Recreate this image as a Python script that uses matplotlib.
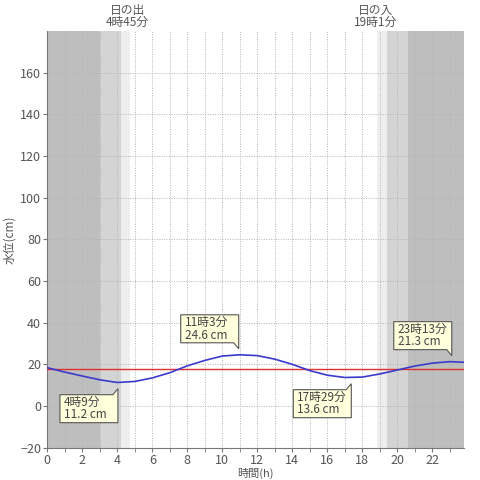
import matplotlib
matplotlib.use("Agg")
import matplotlib.pyplot as plt
from matplotlib.patches import Polygon
from matplotlib.transforms import ScaledTranslation, blended_transform_factory

plt.rcParams['font.family'] = ['Noto Sans CJK JP', 'DejaVu Sans']

# tide level, hourly (cm)
hours = [0, 1, 2, 3, 4, 5, 6, 7, 8, 9, 10, 11, 12,
         13, 14, 15, 16, 17, 18, 19, 20, 21, 22, 23, 23.8]
level = [18.4, 16.3, 14.4, 12.6, 11.3, 11.8, 13.5, 16.0, 19.3, 21.9, 24.0, 24.6, 24.2,
         22.5, 20.0, 17.0, 14.8, 13.7, 13.9, 15.4, 17.3, 19.2, 20.6, 21.3, 21.0]

# high / low tide marks
ext_t = [4.15, 11.05, 17.48, 23.22]
ext_v = [11.2, 24.6, 13.6, 21.3]
ext_lbl = ["4時9分\n11.2 cm", "11時3分\n24.6 cm", "17時29分\n13.6 cm", "23時13分\n21.3 cm"]
ext_up = [False, True, False, True]

ref_level = 18.0

# night / twilight bands (start, end, colour)
bands = [(0, 3.0, '#bebebe'), (3.0, 4.2, '#d4d4d4'), (4.2, 4.75, '#eeeeee'),
         (18.85, 19.4, '#eeeeee'), (19.4, 20.6, '#d4d4d4'), (20.6, 23.8, '#bebebe')]
sun_t = [4.6, 18.75]
sun_lbl = ["日の出\n4時45分", "日の入\n19時1分"]

fig = plt.figure(figsize=(4.8, 4.8), dpi=100)
ax = fig.add_axes([0.0985, 0.0673, 0.868, 0.868])

for a, b, c in bands:
    ax.axvspan(a, b, color=c, lw=0, zorder=0)

ax.set_xlim(0, 23.8)
ax.set_ylim(-20, 180)
ax.set_xticks(range(0, 24, 2))
ax.set_xticks(range(0, 24), minor=True)
ax.set_yticks(range(-20, 161, 20))
ax.grid(True, which='both', color='#b4b4b4', ls=(0, (1, 1.5)), lw=0.7, zorder=1)
ax.set_axisbelow(True)

for s in ['top', 'right']:
    ax.spines[s].set_visible(False)
for s in ['left', 'bottom']:
    ax.spines[s].set_color('#777777')
ax.tick_params(which='both', colors='#777777', labelcolor='#555555', labelsize=9, length=3, pad=1.5)

ax.axhline(ref_level, color='#e03030', lw=1, zorder=3)
ax.plot(hours, level, color='#3a3acc', lw=1.2, zorder=4)

ax.set_xlabel('時間(h)', fontsize=8, color='#555555', va='center')
ax.xaxis.set_label_coords(0.5, -0.063)
ax.set_ylabel('水位(cm)', fontsize=8.5, color='#555555', labelpad=3)

top = blended_transform_factory(ax.transData, ax.transAxes)
for t, s in zip(sun_t, sun_lbl):
    ax.text(t, 1.006, s, transform=top, ha='center', va='bottom',
            fontsize=8.5, color='#555555', linespacing=0.85)


def callout(t, v, label, up):
    trans = fig.dpi_scale_trans + ScaledTranslation(t, v, ax.transData)
    w, h, gap, tip, r = 58, 28, 12, 6, -2
    sg = 1 if up else -1
    pts = [(r - w, gap), (r - 5, gap), (r, tip), (r, gap), (r, gap + h), (r - w, gap + h)]
    pts = [(x / 100, sg * y / 100) for x, y in pts]
    ax.add_patch(Polygon(pts, closed=True, transform=trans, fc='#ffffdc',
                         ec='#555555', lw=0.8, zorder=6, clip_on=False))
    ax.annotate(label, xy=(t, v), xytext=(r - w + 4, sg * (gap + h / 2)),
                textcoords='offset pixels', ha='left', va='center',
                fontsize=8.5, color='#444444', linespacing=0.95, zorder=7)


for t, v, s, u in zip(ext_t, ext_v, ext_lbl, ext_up):
    callout(t, v, s, u)

fig.savefig('out.png', dpi=100)
